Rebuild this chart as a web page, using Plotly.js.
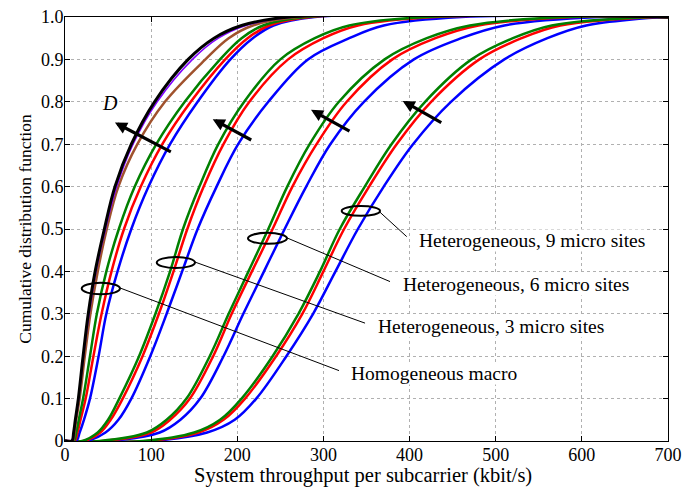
<!DOCTYPE html>
<html>
<head>
<meta charset="utf-8">
<script src="https://cdn.plot.ly/plotly-3.0.1.min.js"></script>
<style>html,body{margin:0;padding:0;background:#fff;}#chart{width:683px;height:487px;}</style>
</head>
<body>
<div id="chart"></div>
<script>
// CDF levels (y values) shared by all curves; first/last points pin the curve to the axis range
const cdfLevels = [0, 0, 0.02, 0.05, 0.1, 0.2, 0.3, 0.4, 0.5, 0.6, 0.7, 0.8, 0.9, 0.95, 0.98, 1.0, 1.0];

// Homogeneous macro (throughput, kbit/s)
const macroBlack  = [0, 8, 10, 12, 15.5, 21, 27, 35, 45.7, 58, 77, 104, 143, 173, 205, 260, 700];
const macroPurple = [0, 8.5, 10.5, 12.5, 16, 21.5, 28, 36, 47, 60, 79, 107, 148, 178, 210, 265, 700];
const macroBrown  = [0, 9, 11, 13, 17, 23, 29.5, 38, 48.5, 62, 84, 116, 163, 190, 218, 270, 700];
const macroGreen  = [0, 10, 13, 16, 21, 29, 37, 48, 62.5, 81, 106, 139, 180, 205, 230, 280, 700];
const macroRed    = [0, 11, 14.5, 18, 24, 33, 42.5, 54, 68.5, 88, 113, 146, 186, 212, 237, 285, 700];
const macroBlue   = [0, 13, 17, 22, 29, 39, 48, 61, 77, 97, 122, 154, 192, 218, 242, 290, 700];

// Heterogeneous, 3 micro sites
const het3Green = [0, 20, 38, 50, 63, 86, 105, 122, 137, 156, 178, 208, 250, 290, 330, 420, 700];
const het3Red   = [0, 22, 41, 53, 67, 90, 109, 126, 142, 161, 184, 214, 259, 300, 340, 430, 700];
const het3Blue  = [0, 25, 47, 62, 77, 99, 118, 136, 154, 176, 201, 236, 282, 330, 370, 460, 700];

// Heterogeneous, 6 micro sites
const het6Green = [0, 40, 95, 118, 141, 168, 190, 213, 236, 258, 284, 318, 371, 420, 470, 580, 700];
const het6Red   = [0, 45, 100, 122, 145, 172, 193.5, 217, 241, 264, 292, 327, 380, 430, 480, 590, 700];
const het6Blue  = [0, 50, 110, 134, 157, 184, 207, 231, 255, 280, 308, 347, 405, 460, 510, 620, 700];

// Heterogeneous, 9 micro sites
const het9Green = [0, 90, 150, 180, 205, 241, 271, 296, 319, 348, 379, 418, 472, 520, 565, 680, 700];
const het9Red   = [0, 95, 155, 184, 209, 245, 275.5, 300, 324, 353, 385, 425, 481, 530, 575, 688, 700];
const het9Blue  = [0, 100, 165, 197, 222, 257, 288, 314, 340, 370, 404, 448, 510, 560, 605, 695, 700];

const xTicks = [0, 100, 200, 300, 400, 500, 600, 700];
const yTicks = [0, 0.1, 0.2, 0.3, 0.4, 0.5, 0.6, 0.7, 0.8, 0.9, 1.0];
const yTickText = ['0', '0.1', '0.2', '0.3', '0.4', '0.5', '0.6', '0.7', '0.8', '0.9', '1.0'];

const xTitle = 'System throughput per subcarrier (kbit/s)';
const yTitle = 'Cumulative distribution function';
const groupLabels = ['Homogeneous macro', 'Heterogeneous, 3 micro sites', 'Heterogeneous, 6 micro sites', 'Heterogeneous, 9 micro sites'];

const COL = {black:'#000000', purple:'#8000ff', brown:'#a0522d', green:'#008000', red:'#ff0000', blue:'#0000ff'};

function tr(xs, color, w) {
  return {x: xs, y: cdfLevels, type: 'scatter', mode: 'lines',
    line: {color: color, width: w, shape: 'spline', smoothing: 1.0}, hoverinfo: 'skip'};
}

const traces = [
  tr(het9Blue, COL.blue, 2.5), tr(het9Red, COL.red, 2.5), tr(het9Green, COL.green, 2.5),
  tr(het6Blue, COL.blue, 2.5), tr(het6Red, COL.red, 2.5), tr(het6Green, COL.green, 2.5),
  tr(het3Blue, COL.blue, 2.5), tr(het3Red, COL.red, 2.5), tr(het3Green, COL.green, 2.5),
  tr(macroBlue, COL.blue, 2.5), tr(macroRed, COL.red, 2.5), tr(macroGreen, COL.green, 2.5),
  tr(macroBrown, COL.brown, 2.5), tr(macroPurple, COL.purple, 1.5), tr(macroBlack, COL.black, 3)
];

const FONT = 'Liberation Serif, Times New Roman, serif';

// ellipses marking each group, and leader lines to labels
const ellipses = [
  {x0: 19.4, x1: 63.8, y0: 0.346, y1: 0.373},
  {x0: 106.5, x1: 150.9, y0: 0.408, y1: 0.434},
  {x0: 212.4, x1: 257.7, y0: 0.465, y1: 0.491},
  {x0: 321.2, x1: 365.7, y0: 0.531, y1: 0.554}
];
const leaders = [
  {x0: 63.8, y0: 0.361, x1: 318.1, y1: 0.166},
  {x0: 150.9, y0: 0.422, x1: 348.3, y1: 0.278},
  {x0: 257.7, y0: 0.479, x1: 377.3, y1: 0.376},
  {x0: 364.9, y0: 0.541, x1: 396.7, y1: 0.482}
];
const labelPos = [
  {x: 330.9, y: 0.160}, {x: 361.9, y: 0.271}, {x: 390.9, y: 0.368}, {x: 409.8, y: 0.474}
];
const arrows = [
  {x: 58.0, y: 0.751, ax: 124.6, ay: 0.680},
  {x: 171.5, y: 0.759, ax: 217.9, ay: 0.708},
  {x: 285.6, y: 0.781, ax: 332.0, ay: 0.729},
  {x: 392.0, y: 0.802, ax: 438.5, ay: 0.749}
];

const shapes = [];
ellipses.forEach(e => shapes.push({type: 'circle', xref: 'x', yref: 'y', x0: e.x0, x1: e.x1, y0: e.y0, y1: e.y1,
  line: {color: '#000', width: 2}, fillcolor: 'rgba(0,0,0,0)'}));
leaders.forEach(l => shapes.push({type: 'line', xref: 'x', yref: 'y', x0: l.x0, y0: l.y0, x1: l.x1, y1: l.y1,
  line: {color: '#000', width: 1}}));

const annotations = [];
groupLabels.forEach((t, i) => annotations.push({x: labelPos[i].x, y: labelPos[i].y, xref: 'x', yref: 'y',
  text: t, showarrow: false, xanchor: 'left', yanchor: 'middle', bgcolor: '#ffffff', borderpad: 0,
  font: {family: FONT, size: 19.5, color: '#000'}}));
arrows.forEach(a => annotations.push({x: a.x, y: a.y, ax: a.ax, ay: a.ay, xref: 'x', yref: 'y', axref: 'x', ayref: 'y',
  text: '', showarrow: true, arrowhead: 2, arrowsize: 0.75, arrowwidth: 3.2, arrowcolor: '#000', standoff: 0}));
annotations.push({x: 52, y: 0.797, xref: 'x', yref: 'y', text: '<i>D</i>', showarrow: false,
  font: {family: FONT, size: 20, color: '#000'}});
// x-axis title, placed below the tick labels
annotations.push({x: 0.495, y: -0.081, xref: 'paper', yref: 'paper', text: xTitle, showarrow: false,
  xanchor: 'center', yanchor: 'middle', borderpad: 0, font: {family: FONT, size: 20.5, color: '#000'}});

const axisCommon = {
  showline: true, linecolor: '#000', linewidth: 1, mirror: 'ticks',
  ticks: 'inside', ticklen: 5, tickcolor: '#000', tickwidth: 1,
  showgrid: true, gridcolor: '#b0b0b0', griddash: 'dot', gridwidth: 1,
  zeroline: false, automargin: false, tickfont: {family: FONT, size: 18, color: '#000'}
};

const layout = {
  width: 683, height: 487,
  margin: {l: 65, r: 15, t: 17, b: 46},
  paper_bgcolor: '#fff', plot_bgcolor: '#fff',
  showlegend: false,
  xaxis: Object.assign({}, axisCommon, {range: [0, 700], tickvals: xTicks, ticktext: xTicks.map(String),
    ticklabelstandoff: -3}),
  yaxis: Object.assign({}, axisCommon, {range: [0, 1], tickvals: yTicks, ticktext: yTickText, ticklabelstandoff: -3,
    title: {text: yTitle, font: {family: FONT, size: 17.5, color: '#000'}, standoff: 4}}),
  shapes: shapes,
  annotations: annotations
};

Plotly.newPlot('chart', traces, layout, {staticPlot: true, displayModeBar: false});
</script>
</body>
</html>
